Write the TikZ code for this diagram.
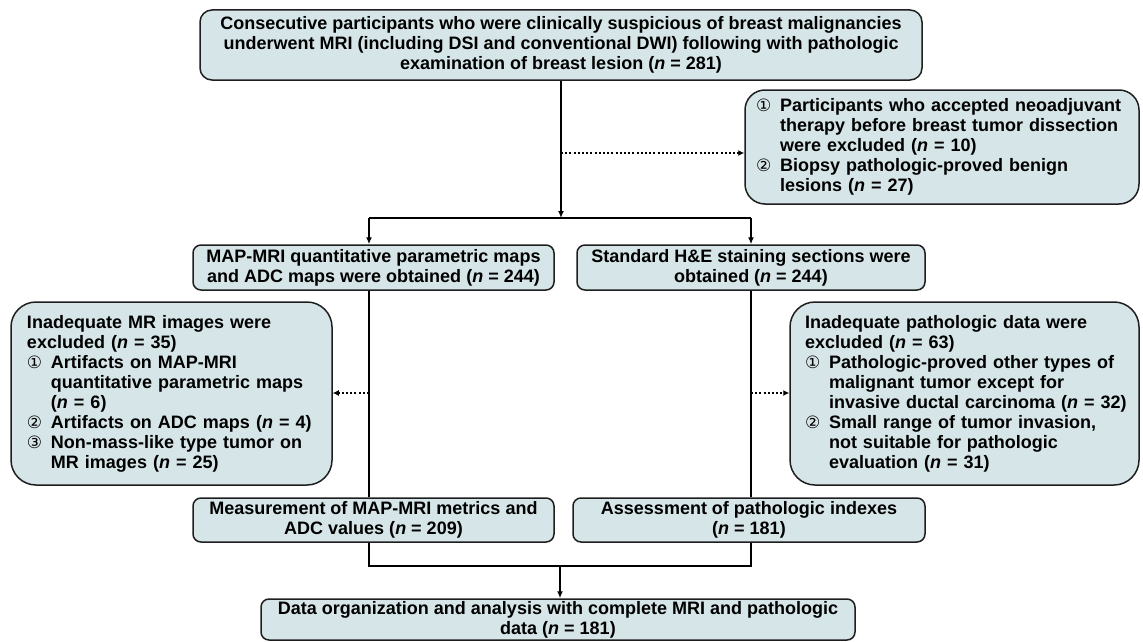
\documentclass[tikz,border=0pt]{standalone}
\usepackage{fontspec}
\setmainfont{Liberation Sans}
\newfontfamily\circfont{DejaVu Sans}
\usetikzlibrary{arrows.meta}
\definecolor{boxfill}{RGB}{214,230,232}
\definecolor{boxline}{RGB}{30,30,30}
\newcommand{\nn}{\textit{n}}
\newcommand{\cnum}[1]{\makebox[24pt][l]{\fontsize{17}{20}\mdseries\circfont #1}}
\newcommand{\ind}{\hspace*{24pt}}
\tikzset{
  basebox/.style={draw=boxline, fill=boxfill, line width=1.5pt, inner sep=0pt},
  cbox/.style={basebox, rounded corners=8pt, align=center, minimum width=#1},
  sidebox/.style={basebox, rounded corners=25pt, align=left},
  conn/.style={line width=2pt, draw=black},
  arr/.style={conn, -{Latex[length=7pt,width=6pt]}},
  dotarr/.style={line width=2pt, dash pattern=on 2pt off 2.2pt, -{Latex[length=6pt,width=6pt]}}
}
\begin{document}
\begin{tikzpicture}[x=1pt,y=-1pt, font=\fontsize{18}{20}\selectfont\bfseries]
\useasboundingbox (0,0) rectangle (1143,642);

% boxes
\node[cbox=722pt, minimum height=70pt, rounded corners=12pt] (top) at (561,45)
  {Consecutive participants who were clinically suspicious of breast malignancies\\
   underwent MRI (including DSI and conventional DWI) following with pathologic\\
   examination of breast lesion (\nn{} = 281)};

\node[sidebox, rounded corners=20pt, inner xsep=11pt, text width=372pt, minimum height=114pt] (ex1) at (942,147)
  {\mbox{\cnum{①}Participants who accepted neoadjuvant}\\
   \mbox{\ind therapy before breast tumor dissection}\\
   \ind were excluded (\nn{} = 10)\\
   \cnum{②}Biopsy pathologic-proved benign\\
   \ind lesions (\nn{} = 27)};

\node[cbox=361pt, minimum height=45pt] (map) at (373.5,267.5)
  {MAP-MRI quantitative parametric maps\\ and ADC maps were obtained (\nn{} = 244)};
\node[cbox=348pt, minimum height=45pt] (he) at (751,267.5)
  {Standard H\&E staining sections were\\ obtained (\nn{} = 244)};

\node[sidebox, inner xsep=16pt, text width=289pt, minimum height=183pt] (ex2) at (171.5,393.5)
  {Inadequate MR images were\\
   excluded (\nn{} = 35)\\
   \cnum{①}Artifacts on MAP-MRI\\
   \mbox{\ind quantitative parametric maps}\\
   \ind (\nn{} = 6)\\
   \mbox{\cnum{②}Artifacts on ADC maps (\nn{} = 4)}\\
   \cnum{③}Non-mass-like type tumor on\\
   \ind MR images (\nn{} = 25)};

\node[sidebox, inner xsep=15pt, text width=319pt, minimum height=183pt] (ex3) at (964.5,393.5)
  {Inadequate pathologic data were\\
   excluded (\nn{} = 63)\\
   \mbox{\cnum{①}Pathologic-proved other types of}\\
   \ind malignant tumor except for\\
   \mbox{\ind invasive ductal carcinoma (\nn{} = 32)}\\
   \mbox{\cnum{②}Small range of tumor invasion,}\\
   \ind not suitable for pathologic\\
   \ind evaluation (\nn{} = 31)};

\node[cbox=361pt, minimum height=44pt] (meas) at (373.5,520)
  {Measurement of MAP-MRI metrics and\\ ADC values (\nn{} = 209)};
\node[cbox=352pt, minimum height=44pt] (assess) at (749,520)
  {Assessment of pathologic indexes\\ (\nn{} = 181)};
\node[cbox=594pt, minimum height=41pt] (final) at (558,619.5)
  {Data organization and analysis with complete MRI and pathologic\\ data (\nn{} = 181)};

% coordinates
\coordinate (j1) at (561,218);
\coordinate (sl) at (369,218);
\coordinate (sr) at (751,218);
\coordinate (d1) at (561,153);
\coordinate (d2) at (369,393);
\coordinate (d3) at (751,393);
\coordinate (ml) at (369,566);
\coordinate (mr) at (751,566);
\coordinate (mc) at (560,566);

% connectors
\draw[arr] (top.south -| j1) -- (j1);
\draw[dotarr] (d1) -- (d1 -| ex1.west);
\draw[conn] (sl) -- (sr);
\draw[arr] (sl) -- (sl |- map.north);
\draw[arr] (sr) -- (sr |- he.north);
\draw[conn] (sl |- map.south) -- (sl |- meas.north);
\draw[conn] (sr |- he.south) -- (sr |- assess.north);
\draw[dotarr] (d2) -- (d2 -| ex2.east);
\draw[dotarr] (d3) -- (d3 -| ex3.west);
\draw[conn] (sl |- meas.south) -- (ml) -- (mr) -- (sr |- assess.south);
\draw[arr] (mc) -- (mc |- final.north);
\end{tikzpicture}
\end{document}
